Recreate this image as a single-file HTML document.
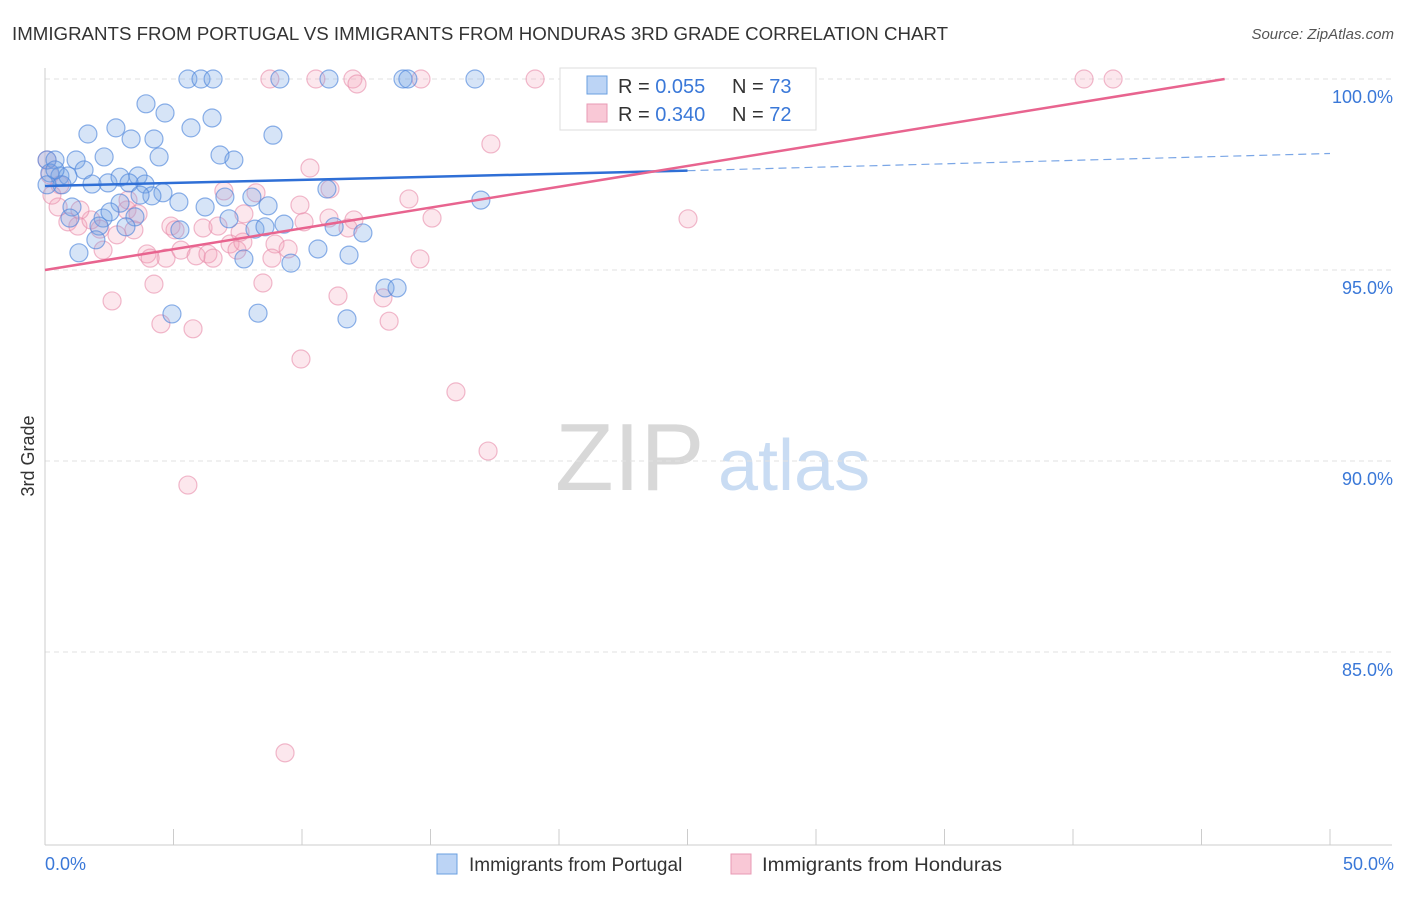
<!DOCTYPE html>
<html><head><meta charset="utf-8">
<style>
body{margin:0;background:#fff;font-family:"Liberation Sans",sans-serif;}
svg text{font-family:"Liberation Sans",sans-serif;}
</style></head>
<body>
<svg id="chart" width="1406" height="892" xmlns="http://www.w3.org/2000/svg">
<text x="12" y="40" font-size="18" fill="#333" textLength="936" lengthAdjust="spacingAndGlyphs">IMMIGRANTS FROM PORTUGAL VS IMMIGRANTS FROM HONDURAS 3RD GRADE CORRELATION CHART</text>
<text x="1394" y="39" font-size="15" fill="#555" text-anchor="end" font-style="italic">Source: ZipAtlas.com</text>
<text x="555" y="490" font-size="96" font-family="Liberation Serif" fill="#d8d8d8">ZIP</text>
<text x="718" y="490" font-size="72" fill="#c9dcf3">atlas</text>
<text transform="translate(34,456) rotate(-90)" font-size="18" fill="#333" text-anchor="middle">3rd Grade</text>
<g id="grid"></g>
<g id="axes"></g>
<g id="pts"></g>
<g id="lines"></g>
<g>
<rect x="560" y="68" width="256" height="62" fill="#fff" stroke="#ddd"/>
<rect x="587" y="76" width="20" height="18" fill="#bcd4f5" stroke="#6a9fe0"/>
<text x="618" y="93" font-size="20" fill="#333">R = <tspan fill="#3a78d8">0.055</tspan></text>
<text x="732" y="93" font-size="20" fill="#333">N = <tspan fill="#3a78d8">73</tspan></text>
<rect x="587" y="104" width="20" height="18" fill="#f9c8d6" stroke="#e89ab4"/>
<text x="618" y="121" font-size="20" fill="#333">R = <tspan fill="#3a78d8">0.340</tspan></text>
<text x="732" y="121" font-size="20" fill="#333">N = <tspan fill="#3a78d8">72</tspan></text>
</g>
<g>
<rect x="437" y="854" width="20" height="20" fill="#bcd4f5" stroke="#6a9fe0"/>
<text x="469" y="871" font-size="19" fill="#333">Immigrants from Portugal</text>
<rect x="731" y="854" width="20" height="20" fill="#f9c8d6" stroke="#e89ab4"/>
<text x="762" y="871" font-size="19" fill="#333" textLength="240" lengthAdjust="spacingAndGlyphs">Immigrants from Honduras</text>
</g>
</svg>
<script>
const yTicks=[100,95,90,85];
const xTickLabels=["0.0%","50.0%"];
const bluePx=[[188,79],[201,79],[213,79],[280,79],[329,79],[403,79],[408,79],[475,79],[146,104],[165,113],[212,118],[88,134],[116,128],[131,139],[154,139],[191,128],[273,135],[47,160],[55,160],[76,160],[104,157],[159,157],[220,155],[234,160],[84,170],[50,173],[60,176],[68,176],[92,184],[108,183],[120,177],[138,176],[145,184],[129,183],[163,193],[152,196],[140,195],[179,202],[205,207],[225,197],[252,197],[268,206],[327,189],[481,200],[72,207],[70,218],[103,218],[120,203],[135,217],[110,212],[99,226],[126,227],[229,219],[255,229],[265,227],[284,224],[334,227],[363,233],[96,240],[79,253],[244,259],[291,263],[318,249],[349,255],[172,314],[258,313],[347,319],[385,288],[397,288],[62,185],[47,185],[55,170],[180,230]];
const pinkPx=[[270,79],[316,79],[353,79],[421,79],[535,79],[658,79],[718,79],[1084,79],[1113,79],[357,84],[491,144],[310,168],[330,189],[224,191],[256,193],[409,199],[688,219],[432,218],[47,160],[50,175],[60,185],[58,207],[68,222],[78,226],[91,220],[100,229],[117,235],[127,210],[134,230],[138,214],[128,200],[171,226],[175,230],[203,228],[218,226],[244,214],[304,222],[329,218],[354,220],[348,228],[103,250],[147,254],[166,258],[181,250],[196,256],[208,254],[213,258],[230,244],[237,250],[243,242],[275,244],[288,249],[272,258],[420,259],[112,301],[154,284],[263,283],[338,296],[383,298],[161,324],[193,329],[389,321],[301,359],[456,392],[488,451],[188,485],[285,753],[300,205],[52,195],[150,258],[240,232],[80,210]];
const blueX=bluePx.map(p=>+((p[0]-45)/25.7).toFixed(2)), blueY=bluePx.map(p=>+(100-(p[1]-79)/38.2).toFixed(2));
const pinkX=pinkPx.map(p=>+((p[0]-45)/25.7).toFixed(2)), pinkY=pinkPx.map(p=>+(100-(p[1]-79)/38.2).toFixed(2));
const blueTrend=[[0,97.2],[25,97.6],[50,98.05]];
const pinkTrend=[[0,95.0],[45.9,100]];
const NS="http://www.w3.org/2000/svg";
const sx=v=>45+v*25.7, sy=v=>79+(100-v)*38.2;
function mk(tag,attrs,parent){const e=document.createElementNS(NS,tag);for(const k in attrs)e.setAttribute(k,attrs[k]);document.getElementById(parent).appendChild(e);return e;}
yTicks.forEach(t=>{
 const l=mk('line',{x1:45,x2:1392,y1:sy(t),y2:sy(t),stroke:'#e2e2e2','stroke-dasharray':'5,4'},'grid');
 
 
 const tx=mk('text',{x:1393,y:sy(t)+24,'font-size':18,fill:'#3a78d8','text-anchor':'end'},'grid');
 tx.textContent=t.toFixed(1)+'%';
 
 
});
const ax=mk('line',{x1:45,x2:1392,y1:845,y2:845,stroke:'#ccc'},'axes');


const ay=mk('line',{x1:45,x2:45,y1:68,y2:845,stroke:'#ccc'},'axes');


for(let i=0;i<=10;i++){const t=mk('line',{x1:sx(i*5),x2:sx(i*5),y1:829,y2:845,stroke:'#ccc'},'axes');
 
 }
const xl0=mk('text',{x:45,y:870,'font-size':18,fill:'#3a78d8'},'axes');xl0.textContent=xTickLabels[0];


const xl1=mk('text',{x:1394,y:870,'font-size':18,fill:'#3a78d8','text-anchor':'end'},'axes');xl1.textContent=xTickLabels[1];


pinkX.forEach((x,i)=>{const c=mk('circle',{cx:sx(x),cy:sy(pinkY[i]),r:9,fill:'rgba(245,160,185,0.25)',stroke:'rgba(232,140,170,0.6)','stroke-width':1.2},'pts');
 
 });
blueX.forEach((x,i)=>{const c=mk('circle',{cx:sx(x),cy:sy(blueY[i]),r:9,fill:'rgba(120,165,230,0.3)',stroke:'rgba(80,135,220,0.65)','stroke-width':1.2},'pts');
 
 });
const b1=mk('line',{x1:sx(blueTrend[0][0]),y1:sy(blueTrend[0][1]),x2:sx(blueTrend[1][0]),y2:sy(blueTrend[1][1]),stroke:'#2f6fd6','stroke-width':2.5},'lines');


const b2=mk('line',{x1:sx(blueTrend[1][0]),y1:sy(blueTrend[1][1]),x2:sx(blueTrend[2][0]),y2:sy(blueTrend[2][1]),stroke:'#7aa6e6','stroke-width':1.2,'stroke-dasharray':'8,5'},'lines');


const p1=mk('line',{x1:sx(pinkTrend[0][0]),y1:sy(pinkTrend[0][1]),x2:sx(pinkTrend[1][0]),y2:sy(pinkTrend[1][1]),stroke:'#e8648f','stroke-width':2.5},'lines');


</script>
</body></html>
